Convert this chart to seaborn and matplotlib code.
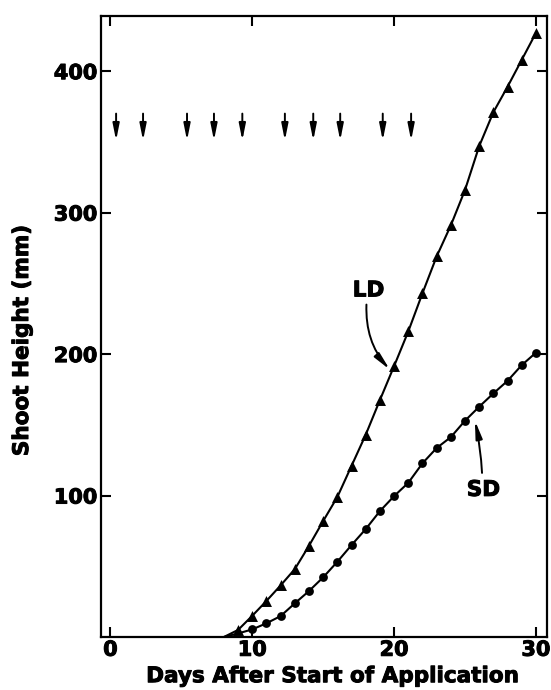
import matplotlib
matplotlib.use("Agg")
import matplotlib.pyplot as plt
import matplotlib.patheffects as pe
import pandas as pd
import seaborn as sns

sns.set_style("ticks")
plt.rcParams["font.family"] = ["DejaVu Sans"]
plt.rcParams["font.weight"] = "bold"
plt.rcParams["text.color"] = "black"
plt.rcParams["axes.labelcolor"] = "black"

# ----------------------------------------------------------
# data
# ----------------------------------------------------------
days = list(range(8, 31))
ld_height = [0, 5, 15, 25.5, 36.5, 48, 64.5, 82, 99, 121, 143, 167.5,
             191.5, 216, 243, 269, 291, 316, 347, 371, 389, 408, 427]
sd_height = [0, 2.5, 5.4, 9.7, 14.8, 23.8, 32.5, 42.2, 53.2, 65, 76.3, 89,
             99.6, 109, 122.8, 133.6, 141.3, 152.9, 162.8, 172.2, 181.1,
             192.2, 201]
ld_first_marker = 9
sd_first_marker = 10

application_days = [0.4, 2.3, 5.4, 7.3, 9.3, 12.3, 14.3, 16.2, 19.2, 21.2]
arrow_top = 370
arrow_tip = 351

x_ticks = [0, 10, 20, 30]
y_ticks = [100, 200, 300, 400]

df = pd.DataFrame({
    "Day": days * 2,
    "Height": ld_height + sd_height,
    "Photoperiod": ["LD"] * len(days) + ["SD"] * len(days),
})

heavy = [pe.withStroke(linewidth=0.7, foreground="black")]

# ----------------------------------------------------------
# figure
# ----------------------------------------------------------
fig = plt.figure(figsize=(5.51, 6.90), dpi=100)
ax = fig.add_axes([0.1842, 0.0768, 0.808, 0.900])

sns.lineplot(
    data=df, x="Day", y="Height", hue="Photoperiod",
    palette={"LD": "black", "SD": "black"},
    linewidth=1.5, legend=False, ax=ax
)

ld_pts = df[(df["Photoperiod"] == "LD") & (df["Day"] >= ld_first_marker)]
sd_pts = df[(df["Photoperiod"] == "SD") & (df["Day"] >= sd_first_marker)]

sns.scatterplot(data=ld_pts, x="Day", y="Height", marker="^",
                color="black", s=62, edgecolor="black", linewidth=0,
                ax=ax)
sns.scatterplot(data=sd_pts, x="Day", y="Height", marker="o",
                color="black", s=40, edgecolor="black", linewidth=0,
                ax=ax)

# application arrows
for d in application_days:
    ax.annotate(
        "", xy=(d, arrow_tip), xytext=(d, arrow_top),
        arrowprops=dict(arrowstyle="-|>,head_length=0.7,head_width=0.14",
                        color="black", lw=1.4, mutation_scale=14,
                        shrinkA=0, shrinkB=0)
    )

# curve labels
ax.text(18.2, 245, "LD", fontsize=15.5, fontweight="bold",
        ha="center", va="center", path_effects=heavy)
ax.annotate(
    "", xy=(19.7, 189), xytext=(18.05, 235),
    arrowprops=dict(arrowstyle="-|>,head_length=0.75,head_width=0.14",
                    color="black", lw=1.4, mutation_scale=14,
                    shrinkA=0, shrinkB=0,
                    connectionstyle="arc3,rad=0.2")
)
ax.text(26.3, 104, "SD", fontsize=15.5, fontweight="bold",
        ha="center", va="center", path_effects=heavy)
ax.annotate(
    "", xy=(25.7, 153), xytext=(26.2, 116),
    arrowprops=dict(arrowstyle="-|>,head_length=0.75,head_width=0.14",
                    color="black", lw=1.4, mutation_scale=14,
                    shrinkA=0, shrinkB=0,
                    connectionstyle="arc3,rad=0.04")
)

# axes
ax.set_xlim(-0.63, 30.76)
ax.set_ylim(0, 439)
ax.set_xticks(x_ticks)
ax.set_yticks(y_ticks)

ax.tick_params(direction="in", length=7, width=1.5, top=True, right=True,
               labelsize=15, colors="black")
ax.tick_params(axis="x", pad=2)
ax.tick_params(axis="y", pad=3)
for lab in ax.get_xticklabels() + ax.get_yticklabels():
    lab.set_fontweight("bold")
    lab.set_path_effects(heavy)

for spine in ax.spines.values():
    spine.set_linewidth(1.6)
    spine.set_color("black")

ax.set_xlabel("Days After Start of Application", fontsize=15.5,
              fontweight="bold", path_effects=heavy)
ax.set_ylabel("Shoot Height (mm)", fontsize=15.5, fontweight="bold",
              path_effects=heavy)
ax.xaxis.set_label_coords(0.518, -0.047)
ax.yaxis.set_label_coords(-0.156, 0.477)

fig.savefig("out.png", dpi=100)
